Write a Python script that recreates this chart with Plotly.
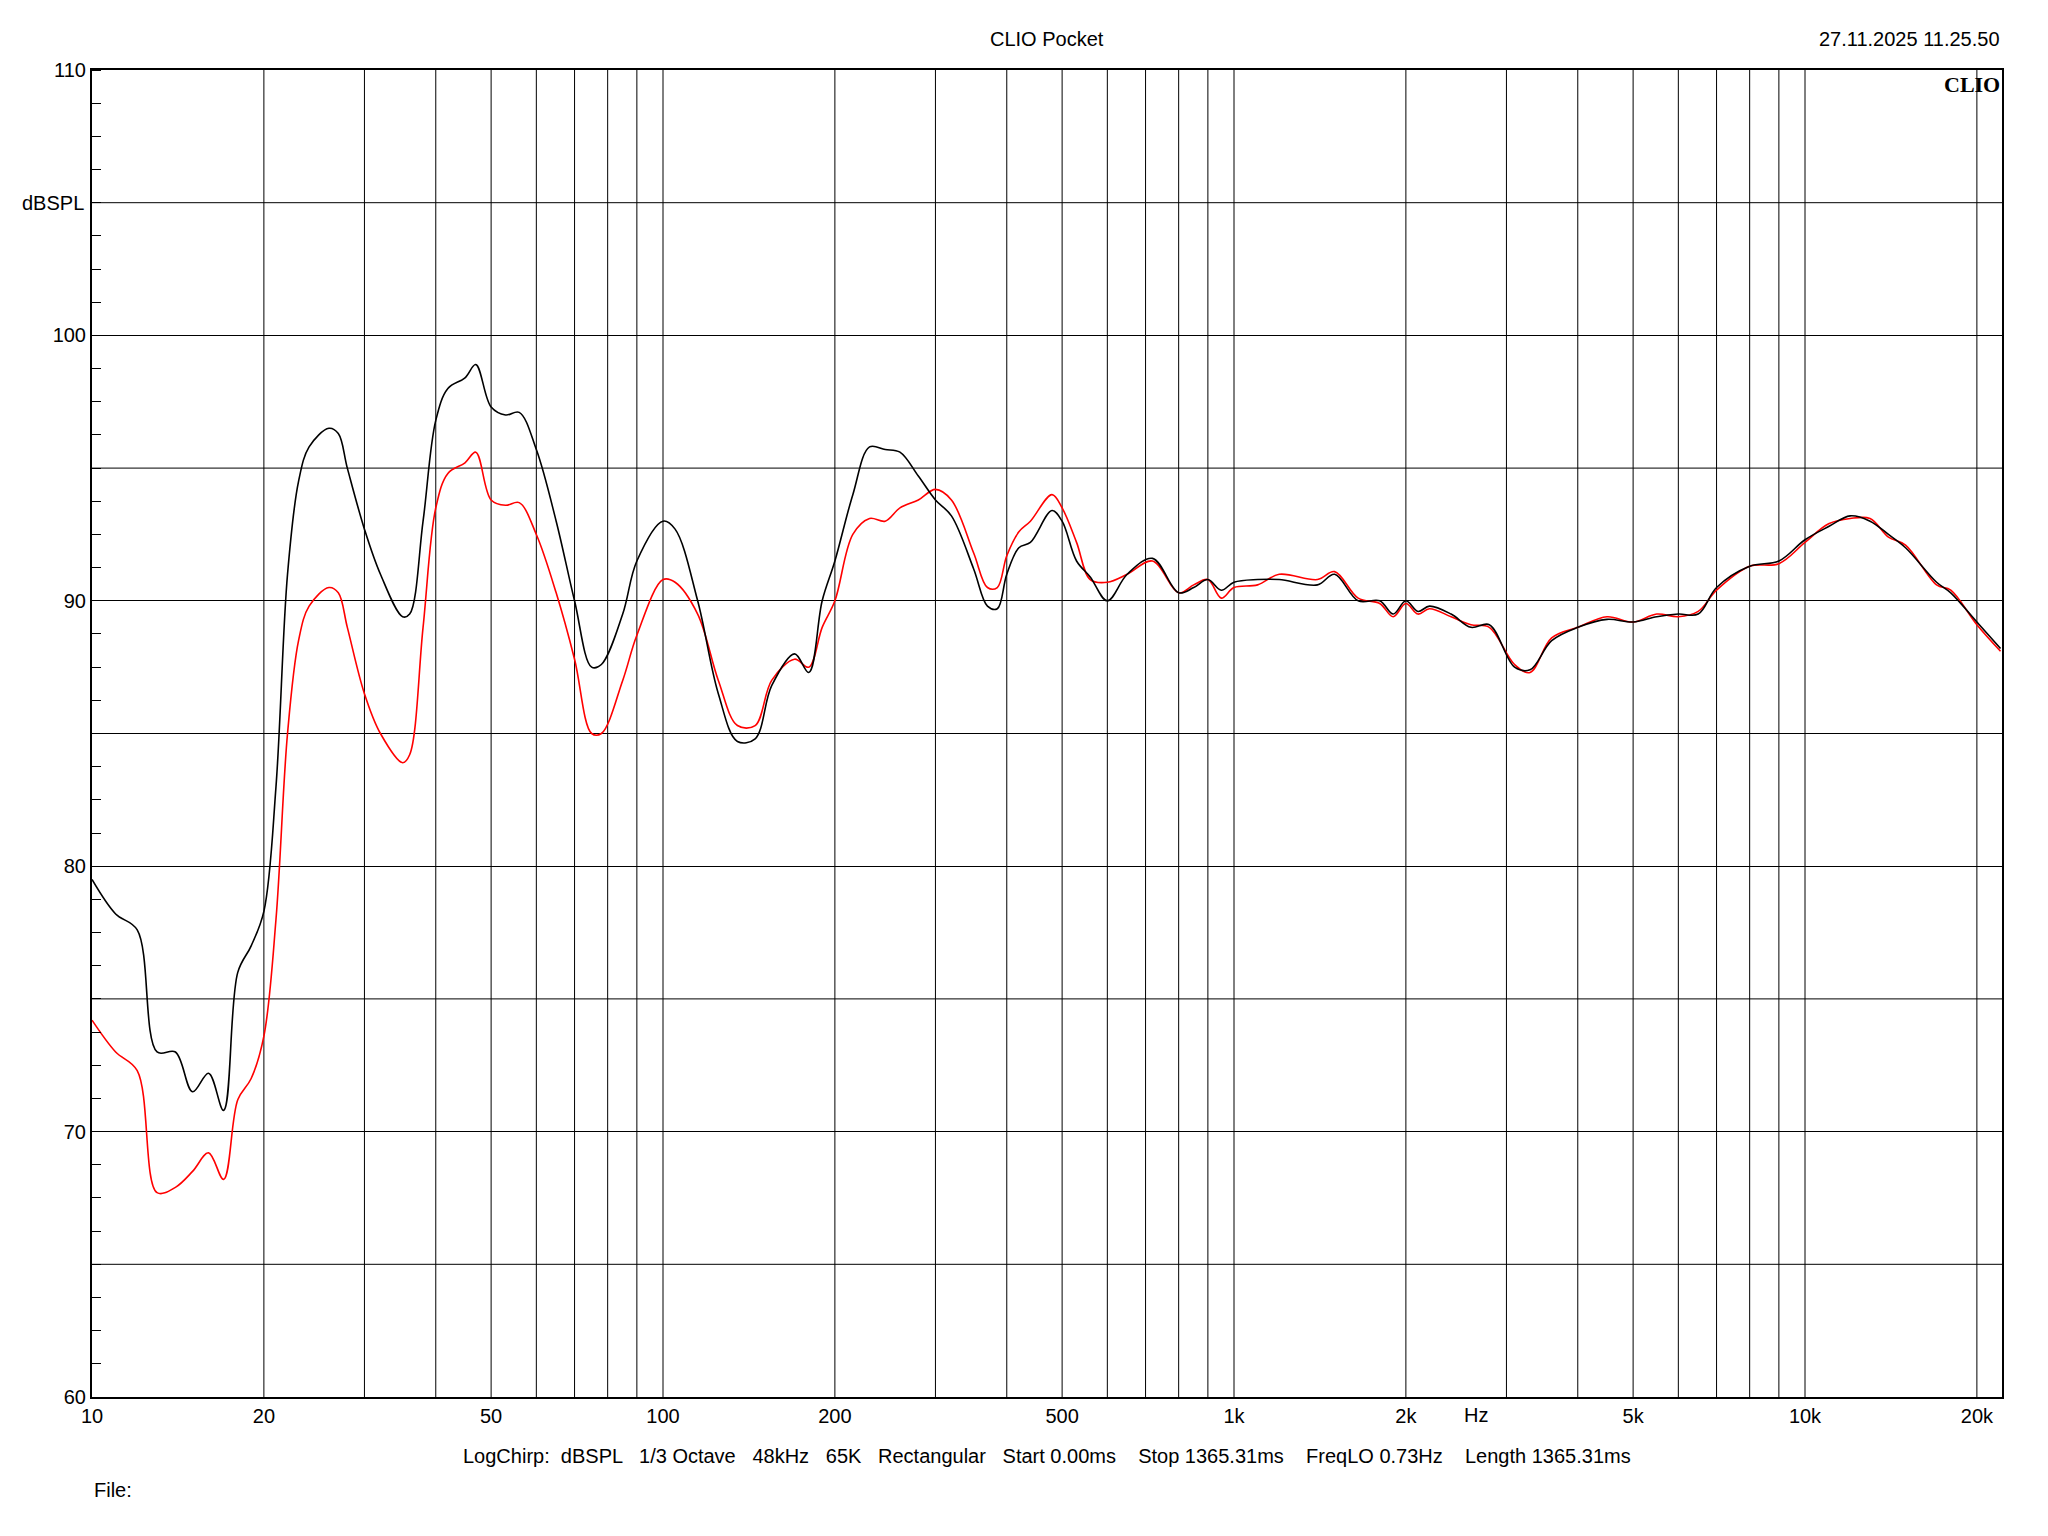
import math
import plotly.graph_objects as go

freq_black = [10, 11, 12, 13, 14, 15, 16, 17, 18, 19, 20, 21, 22, 23, 24, 26, 27, 28, 30, 32, 35, 36, 38, 40,
              42, 45, 47, 50, 53, 56, 60, 65, 70, 75, 78, 85, 90, 100, 105, 115, 125, 135, 145, 155, 170, 180,
              190, 200, 215, 230, 245, 260, 280, 300, 320, 350, 370, 385, 400, 420, 440, 480, 500, 530, 560,
              600, 650, 720, 800, 850, 900, 950, 1000, 1100, 1200, 1400, 1500, 1650, 1800, 1900, 2000, 2100,
              2200, 2400, 2600, 2800, 3100, 3300, 3600, 4000, 4500, 5000, 5500, 6000, 6500, 7000, 8000, 9000,
              10000, 11000, 12000, 13000, 14000, 15000, 17000, 18000, 20000, 22000]
db_black = [79.5, 78.2, 77.6, 73.0, 73.0, 71.5, 72.2, 70.8, 76.0, 77.0, 78.3, 83.0, 91.0, 94.5, 95.8, 96.5, 96.3,
            95.0, 92.7, 91.0, 89.4, 89.5, 93.0, 96.8, 98.0, 98.4, 98.9, 97.3, 97.0, 97.1, 95.7, 93.0, 90.0,
            87.5, 87.6, 89.5, 91.5, 93.0, 92.7, 90.0, 86.5, 84.7, 84.8, 86.8, 88.0, 87.3, 90.0, 91.5, 94.0,
            95.8, 95.7, 95.6, 94.7, 93.8, 93.2, 91.2, 89.8, 89.7, 91.0, 92.0, 92.2, 93.4, 93.0, 91.5, 90.9,
            90.0, 91.0, 91.6, 90.3, 90.5, 90.8, 90.4, 90.7, 90.8, 90.8, 90.6, 91.0, 90.0, 90.0, 89.5, 90.0,
            89.6, 89.8, 89.5, 89.0, 89.1, 87.5, 87.4, 88.5, 89.0, 89.3, 89.2, 89.4, 89.5, 89.5, 90.5, 91.3,
            91.5, 92.3, 92.8, 93.2, 93.0, 92.5, 92.0, 90.7, 90.3, 89.2, 88.2]

freq_red = freq_black
db_red = [74.2, 73.0, 72.3, 67.7, 67.9, 68.5, 69.2, 68.2, 71.2, 72.0, 73.6, 78.0, 85.0, 88.5, 89.8, 90.5, 90.3,
          89.0, 86.5, 85.0, 83.9, 84.2, 89.0, 93.5, 94.8, 95.2, 95.6, 93.8, 93.6, 93.7, 92.5, 90.3, 87.8,
          85.0, 85.0, 87.0, 88.7, 90.8, 90.7, 89.5, 87.0, 85.3, 85.3, 87.0, 87.8, 87.5, 89.0, 90.0, 92.5,
          93.1, 93.0, 93.5, 93.8, 94.2, 93.8, 91.8, 90.5, 90.5, 91.7, 92.6, 93.0, 94.0, 93.5, 92.2, 90.8,
          90.7, 91.0, 91.5, 90.3, 90.6, 90.8, 90.1, 90.5, 90.6, 91.0, 90.8, 91.1, 90.1, 89.9, 89.4, 89.9,
          89.5, 89.7, 89.4, 89.1, 89.0, 87.6, 87.3, 88.6, 89.0, 89.4, 89.2, 89.5, 89.4, 89.6, 90.4, 91.3,
          91.4, 92.2, 92.9, 93.1, 93.1, 92.4, 92.1, 90.6, 90.4, 89.1, 88.1]

tick_vals = [10, 20, 50, 100, 200, 500, 1000, 2000, 5000, 10000, 20000]
tick_text = ["10", "20", "50", "100", "200", "500", "1k", "2k", "5k", "10k", "20k"]
grid_freqs = [f * m for m in (10, 100, 1000, 10000) for f in range(1, 10)] + [10, 20]
grid_freqs = sorted(set(f for f in grid_freqs if 10 < f < 22000))

fig = go.Figure()
fig.add_trace(go.Scatter(x=freq_red, y=db_red, mode="lines", line=dict(color="#ff0000", width=1.6, shape="spline")))
fig.add_trace(go.Scatter(x=freq_black, y=db_black, mode="lines", line=dict(color="#000000", width=1.6, shape="spline")))

for f in grid_freqs:
    fig.add_shape(type="line", xref="x", yref="paper", x0=f, x1=f, y0=0, y1=1, line=dict(color="black", width=1), layer="below")
for v in [65, 75, 85, 95, 105]:
    fig.add_shape(type="line", xref="paper", yref="y", x0=0, x1=1, y0=v, y1=v, line=dict(color="black", width=1), layer="below")

font = dict(family="Liberation Sans, Arial", size=20, color="black")
fig.update_layout(
    width=2048, height=1536,
    margin=dict(l=84, r=54, t=62, b=147),
    plot_bgcolor="white", paper_bgcolor="white",
    showlegend=False, font=font,
    xaxis=dict(type="log", range=[1, 4.345], tickvals=tick_vals, ticktext=tick_text, showgrid=False,
               showline=True, linecolor="black", linewidth=2, mirror=True, ticks="", zeroline=False),
    yaxis=dict(range=[60, 110], tickmode="array", tickvals=[60, 70, 80, 90, 100, 110], showgrid=True,
               gridcolor="black", gridwidth=1, showline=True, linecolor="black", linewidth=2, mirror=True,
               ticks="", zeroline=False,
               minor=dict(dtick=1.25, ticks="inside", ticklen=9, tickcolor="black", showgrid=False)),
)

fig.add_annotation(text="CLIO Pocket", xref="paper", yref="paper", x=0.5, y=1, yshift=44, showarrow=False, font=font)
fig.add_annotation(text="27.11.2025 11.25.50", xref="paper", yref="paper", x=1, y=1, yshift=44, xanchor="right", showarrow=False, font=font)
fig.add_annotation(text="<b>CLIO</b>", xref="paper", yref="paper", x=1, y=1, xanchor="right", yanchor="top", showarrow=False,
                   font=dict(family="Liberation Serif", size=22, color="black"))
fig.add_annotation(text="dBSPL", xref="paper", yref="y", x=0, y=105, xanchor="right", xshift=-6, showarrow=False, font=font)
fig.add_annotation(text="Hz", xref="x", yref="paper", x=math.log10(2650), y=0, yanchor="top", yshift=-5, showarrow=False, font=font)
fig.add_annotation(text="LogChirp:  dBSPL   1/3 Octave   48kHz   65K   Rectangular   Start 0.00ms    Stop 1365.31ms    FreqLO 0.73Hz    Length 1365.31ms",
                   xref="paper", yref="paper", x=0.5, y=0, yshift=-72, showarrow=False, font=font)
fig.add_annotation(text="File:", xref="paper", yref="paper", x=0, y=0, yshift=-106, xanchor="left", showarrow=False, font=font)

fig.write_html("out.html")
